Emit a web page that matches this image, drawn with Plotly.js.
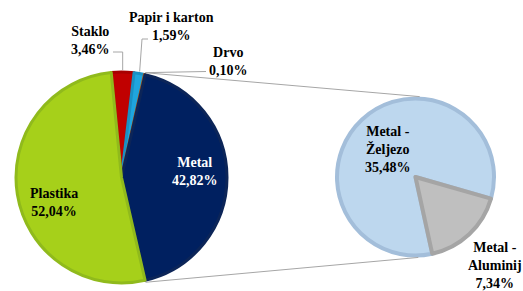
<!DOCTYPE html>
<html><head><meta charset="utf-8">
<script src="https://cdn.plot.ly/plotly-3.0.1.min.js"></script>
<style>html,body{margin:0;padding:0;background:#fff}#c{width:523px;height:291px}</style>
</head><body><div id="c"></div>
<script>
// Data
const mainLabels = ['Staklo', 'Papir i karton', 'Drvo', 'Metal', 'Plastika'];
const mainValues = [3.46, 1.59, 0.10, 42.82, 52.04];
const mainText = ['3,46%', '1,59%', '0,10%', '42,82%', '52,04%'];
const subLabels = ['Metal - Željezo', 'Metal - Aluminij'];
const subValues = [35.48, 7.34];
const subText = ['35,48%', '7,34%'];

const W = 523, H = 291;
const mainColors = ['#C00000', '#1FA5DE', '#E46C0A', '#002060', '#A6D01A'];
const mainLines = ['#A80000', '#1A90C4', '#C05A08', '#0C2558', '#90BA1C'];
const subColors = ['#BDD7EE', '#BFBFBF'];
const subLines = ['#A3BEDA', '#A5A5A5'];

const leftDom = {x: [16 / W, 227 / W], y: [8 / H, 219 / H]};
const rightDom = {x: [337 / W, 494 / W], y: [35.5 / H, 192.5 / H]};
const mainRot = -5.6;
const subRot = 167.7;

function geom(d) {
  const x0 = d.x[0] * W, x1 = d.x[1] * W, y0 = H - d.y[1] * H, y1 = H - d.y[0] * H;
  return {cx: (x0 + x1) / 2, cy: (y0 + y1) / 2, r: Math.min(x1 - x0, y1 - y0) / 2};
}
function pt(g, angDeg, rr) {
  const a = angDeg * Math.PI / 180;
  const R = rr === undefined ? g.r : rr;
  return [(g.cx + R * Math.sin(a)) / W, 1 - (g.cy - R * Math.cos(a)) / H];
}
const gL = geom(leftDom), gR = geom(rightDom);
const tot = mainValues.reduce((a, b) => a + b, 0);
const starts = []; let acc = mainRot;
mainValues.forEach(v => { starts.push(acc); acc += v / tot * 360; });
const metalStart = starts[3], metalEnd = starts[3] + mainValues[3] / tot * 360;

const gray = '#A6A6A6';
const shapes = [];
function seg(p, q) {
  shapes.push({type: 'line', xref: 'paper', yref: 'paper', x0: p[0], y0: p[1], x1: q[0], y1: q[1], line: {color: gray, width: 1}});
}
// connector lines between pies
seg(pt(gL, metalStart, gL.r + 2), pt(gR, 3, gR.r + 2));
seg(pt(gL, metalEnd, gL.r + 2), pt(gR, 178, gR.r + 2));
// leader lines
function mid(i) { return starts[i] + mainValues[i] / tot * 180; }
const sE = pt(gL, mid(0), gL.r + 2);
seg(sE, [sE[0], 1 - 52 / H]);
seg([sE[0], 1 - 52 / H], [113 / W, 1 - 52 / H]);
const pE = pt(gL, mid(1), gL.r + 2);
seg(pE, [142 / W, 1 - 39 / H]);
seg([142 / W, 1 - 39 / H], [148 / W, 1 - 39 / H]);
const dE = pt(gL, mid(2), gL.r + 2);
seg(dE, [206 / W, 1 - 71.5 / H]);

const fnt = 'Liberation Serif';
function ann(x, y, text, color) {
  return {xref: 'paper', yref: 'paper', x: x / W, y: 1 - y / H, text: text, showarrow: false,
    xanchor: 'center', yanchor: 'middle', align: 'center',
    font: {family: fnt, size: 14, color: color || '#000', weight: 'bold'}};
}
const annotations = [
  ann(90, 41, mainLabels[0] + '<br>' + mainText[0]),
  ann(171, 26, mainLabels[1] + '<br>' + mainText[1]),
  ann(228, 61, mainLabels[2] + '<br>' + mainText[2]),
  ann(195, 171, mainLabels[3] + '<br>' + mainText[3], '#fff'),
  ann(54, 202, mainLabels[4] + '<br>' + mainText[4]),
  ann(388, 150, 'Metal -<br>Željezo<br>' + subText[0]),
  ann(495, 265, 'Metal -<br>Aluminij<br>' + subText[1])
];

const data = [
  {type: 'pie', labels: mainLabels, values: mainValues, sort: false, direction: 'clockwise',
   rotation: mainRot, domain: leftDom, textinfo: 'none', hoverinfo: 'label+percent',
   marker: {colors: mainColors, line: {color: mainLines, width: 3}}},
  {type: 'pie', labels: subLabels, values: subValues, sort: false, direction: 'clockwise',
   rotation: subRot, domain: rightDom, textinfo: 'none', hoverinfo: 'label+percent',
   marker: {colors: subColors, line: {color: subLines, width: 4}}}
];
const layout = {width: W, height: H, margin: {l: 0, r: 0, t: 0, b: 0}, showlegend: false,
  paper_bgcolor: '#fff', shapes: shapes, annotations: annotations};
Plotly.newPlot('c', data, layout, {displayModeBar: false, staticPlot: true});
</script></body></html>
